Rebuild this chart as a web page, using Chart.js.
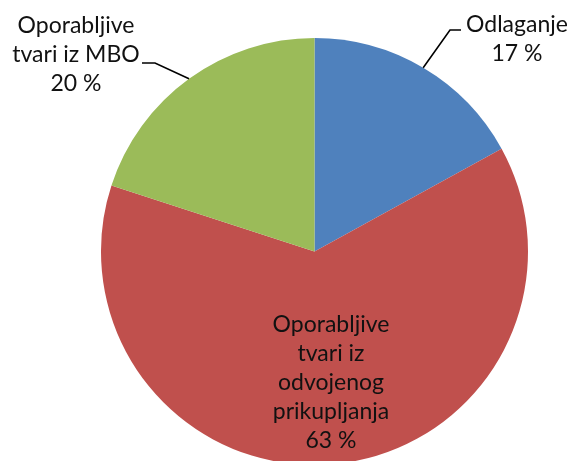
<!DOCTYPE html>
<html>
<head>
<meta charset="utf-8">
<script src="https://cdn.jsdelivr.net/npm/chart.js@4"></script>
<style>
    html, body { margin: 0; padding: 0; overflow: hidden; background: #fff; }
    #wrap { width: 570px; height: 470px; }
</style>
</head>
<body>
<div id="wrap"><canvas id="chart" width="570" height="470"></canvas></div>
<script>
const categories = ['Odlaganje', 'Oporabljive tvari iz odvojenog prikupljanja', 'Oporabljive tvari iz MBO'];
const shares = [17, 63, 20];
const sliceColors = ['#4F81BD', '#C0504D', '#9BBB59'];

// how each category label is broken into lines
const labelLines = [
    ['Odlaganje'],
    ['Oporabljive', 'tvari iz', 'odvojenog', 'prikupljanja'],
    ['Oporabljive', 'tvari iz MBO']
];

// where the labels sit (text centre x, first baseline) and the leader elbow
const labelPlaces = [
    { x: 517, y: 32, elbow: [450, 30], end: [461, 30] },
    { x: 331, y: 332 },
    { x: 76, y: 33, elbow: [155, 63], end: [142, 63] }
];

const pieLabels = {
    id: 'pieLabels',
    afterDraw(chart) {
        const ctx = chart.ctx;
        const arcs = chart.getDatasetMeta(0).data;
        const lineHeight = 29;
        ctx.save();
        ctx.font = '23px Lato';
        ctx.fillStyle = '#111';
        ctx.textAlign = 'center';
        ctx.textBaseline = 'alphabetic';

        arcs.forEach(function (arc, i) {
            const place = labelPlaces[i];
            const lines = labelLines[i].concat([shares[i] + ' %']);
            lines.forEach(function (line, k) {
                ctx.fillText(line, place.x, place.y + k * lineHeight);
            });

            if (place.elbow) {
                const mid = (arc.startAngle + arc.endAngle) / 2;
                const sx = arc.x + Math.cos(mid) * arc.outerRadius;
                const sy = arc.y + Math.sin(mid) * arc.outerRadius;
                ctx.beginPath();
                ctx.strokeStyle = '#000';
                ctx.lineWidth = 1.6;
                ctx.moveTo(sx, sy);
                ctx.lineTo(place.elbow[0], place.elbow[1]);
                ctx.lineTo(place.end[0], place.end[1]);
                ctx.stroke();
            }
        });
        ctx.restore();
    }
};

const data = {
    labels: categories,
    datasets: [{
        data: shares,
        backgroundColor: sliceColors,
        borderWidth: 0
    }]
};

new Chart(document.getElementById('chart').getContext('2d'), {
    type: 'pie',
    data: data,
    options: {
        responsive: false,
        animation: false,
        layout: { padding: { left: 101, right: 42, top: 38, bottom: 5 } },
        plugins: {
            legend: { display: false },
            tooltip: { enabled: false }
        }
    },
    plugins: [pieLabels]
});
</script>
</body>
</html>
